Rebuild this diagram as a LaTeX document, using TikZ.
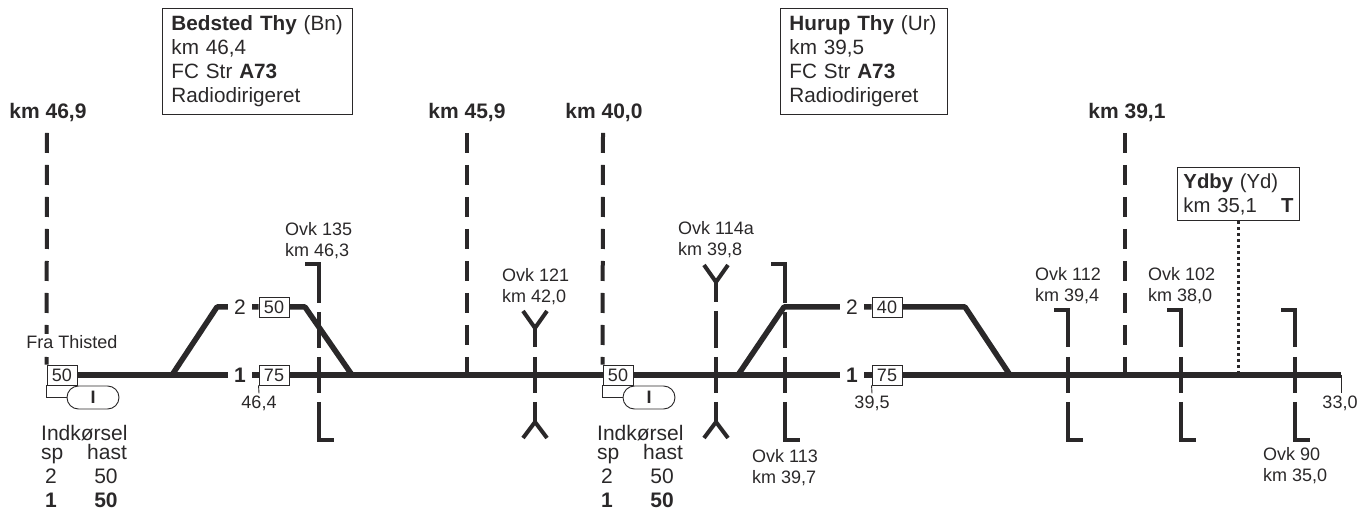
\documentclass[tikz,border=0pt]{standalone}
\usepackage{fontspec}
\setmainfont{Liberation Sans}
\usepackage{tikz}
\usetikzlibrary{calc,positioning,shapes.misc}
\definecolor{ink}{HTML}{2A2829}
\tikzset{
  track/.style={draw=ink,line width=5.5pt},
  kmline/.style={draw=ink,line width=4pt,dash pattern=on 20pt off 12pt},
  ovktall/.style={draw=ink,line width=4pt,dash pattern=on 39pt off 9pt on 36pt off 9pt on 36pt off 9pt on 38pt off 9pt},
  ovklow/.style={draw=ink,line width=4pt,dash pattern=on 37pt off 10pt on 36pt off 9pt on 37pt off 9pt},
  ovkforka/.style={draw=ink,line width=4pt,dash pattern=on 19pt off 10pt on 36pt off 9pt on 20pt off 9pt},
  ovkforkb/.style={draw=ink,line width=4pt,dash pattern=on 20pt off 9pt on 37pt off 9pt on 36pt off 9pt on 20pt off 9pt},
  ovkend/.style={draw=ink,line width=4pt},
  thin/.style={draw=ink,line width=0.9pt},
  speedbox/.style={draw=ink,fill=white,line width=0.9pt,minimum width=30pt,minimum height=20pt,inner sep=0pt,text=ink,font=\fontsize{18}{21}\selectfont},
  tracknum/.style={minimum width=24pt,inner sep=0pt,text=ink,font=\fontsize{21}{24}\selectfont},
  stationbox/.style={draw=ink,line width=0.9pt,anchor=north west,align=left,inner xsep=9pt,inner ysep=0pt,text=ink,font=\fontsize{20.7}{24}\selectfont},
  kmlabel/.style={text=ink,inner sep=0pt,font=\bfseries\fontsize{21}{24}\selectfont},
  ovk/.style={text=ink,inner sep=0pt,anchor=west,align=left,font=\fontsize{18}{21}\selectfont},
  small/.style={text=ink,inner xsep=0pt,inner ysep=2pt,font=\fontsize{18}{21}\selectfont},
  tabletext/.style={text=ink,inner sep=0pt,anchor=base,font=\fontsize{21}{24}\selectfont},
  pill/.style={draw=ink,rounded rectangle,line width=0.9pt,minimum width=52pt,minimum height=23pt,inner sep=0pt,text=ink,font=\bfseries\fontsize{18}{21}\selectfont}
}
\begin{document}
\begin{tikzpicture}[x=1pt,y=-1pt]
    \useasboundingbox (0,0) rectangle (1360,510);
    % stations
    \node[stationbox,text width=172pt,minimum height=106pt] (bedsted) at (162,8)
      {\textbf{Bedsted Thy} (Bn)\\km 46,4\\FC Str \textbf{A73}\\Radiodirigeret};
    \node[stationbox,text width=149pt,minimum height=106pt] (hurup) at (780,8)
      {\textbf{Hurup Thy} (Ur)\\km 39,5\\FC Str \textbf{A73}\\Radiodirigeret};
    \node[stationbox,inner xsep=6pt,text width=110pt,minimum height=53pt,font=\fontsize{20.3}{24}\selectfont] (ydby) at (1177,167)
      {\textbf{Ydby} (Yd)\\km 35,1\hfill\textbf{T}};
    % km labels
    \node[kmlabel] (kmA) at (48,113) {km 46,9};
    \node[kmlabel] (kmB) at (467,113) {km 45,9};
    \node[kmlabel] (kmC) at (604,113) {km 40,0};
    \node[kmlabel] (kmD) at (1127,113) {km 39,1};
    % tracks, speed boxes
    \node[speedbox] (sigA) at (62,375) {50};
    \node[speedbox] (sigB) at (618,375) {50};
    \node[tracknum] (numA2) at (240,307) {2};
    \node[tracknum,font=\bfseries\fontsize{21}{24}\selectfont] (numA1) at (240,375) {1};
    \node[tracknum] (numB2) at (852,307) {2};
    \node[tracknum,font=\bfseries\fontsize{21}{24}\selectfont] (numB1) at (852,375) {1};
    \node[speedbox] (boxA2) at (274,307) {50};
    \node[speedbox] (boxA1) at (274,375) {75};
    \node[speedbox] (boxB2) at (887,307) {40};
    \node[speedbox] (boxB1) at (887,375) {75};
    \coordinate (endline) at (1341,375);
    \coordinate (jA1) at (172,375);
    \coordinate (jA2) at (217,307);
    \coordinate (jA3) at (305,307);
    \coordinate (jA4) at (352,375);
    \coordinate (jB1) at (738,375);
    \coordinate (jB2) at (784,307);
    \coordinate (jB3) at (965,307);
    \coordinate (jB4) at (1010,375);
    \path[track]
    (sigA.east) -- (numA1.west)
    (numA1.east) -- (boxA1.west)
    (boxA1.east) -- (sigB.west)
    (sigB.east) -- (numB1.west)
    (numB1.east) -- (boxB1.west)
    (boxB1.east) -- (endline);
    \path[track,line join=round]
    (jA1) -- (jA2) -- (numA2.west)
    (numA2.east) -- (boxA2.west)
    (boxA2.east) -- (jA3) -- (jA4)
    (jB1) -- (jB2) -- (numB2.west)
    (numB2.east) -- (boxB2.west)
    (boxB2.east) -- (jB3) -- (jB4);
    % km lines
    \coordinate (kmAtop) at (47,133);
    \coordinate (kmBtop) at (467,133);
    \coordinate (kmBbot) at (467,375);
    \coordinate (kmCtop) at (603,133);
    \coordinate (kmDtop) at (1125,133);
    \coordinate (kmDbot) at (1125,375);
    \path[kmline] (kmAtop) -- (sigA.north west);
    \path[kmline] (kmBtop) -- (kmBbot);
    \path[kmline] (kmCtop) -- (sigB.north west);
    \path[kmline] (kmDtop) -- (kmDbot);
    \node[small,fill=white,inner ysep=1pt] (frathisted) at (72,342) {Fra Thisted};
    \coordinate (ydbyfoot) at (ydby.south -| 1238,0);
    \coordinate (ydbytrack) at (1238,372);
    \draw[ink,line width=3pt,dash pattern=on 3pt off 3pt] (ydbyfoot) -- (ydbytrack);
    % level crossings, hooks
    \foreach \x/\top/\kind in {319/264/ovktall,785/264/ovktall,1068/310/ovklow,1181/310/ovklow,1295/310/ovklow} {
      \coordinate (hookL\x) at (\x-14,\top);
      \coordinate (hookT\x) at (\x,\top);
      \coordinate (hookB\x) at (\x,440);
      \coordinate (hookR\x) at (\x+15,440);
      \path[ovkend,line join=miter] (hookL\x) -- (hookT\x) -- ($(hookT\x)+(0,4)$);
      \path[ovkend,line join=miter] ($(hookB\x)+(0,-4)$) -- (hookB\x) -- (hookR\x);
      \path[\kind] (hookT\x) -- (hookB\x);
    }
    % level crossings, forks
    \foreach \x/\top/\kind in {535/328/ovkforka,716/282/ovkforkb} {
      \coordinate (forkT\x) at (\x,\top);
      \coordinate (forkB\x) at (\x,422);
      \path[ovkend,line join=miter] (\x-12,\top-17) -- (forkT\x) -- (\x+12,\top-17);
      \path[ovkend,line join=miter] (\x-12,438) -- (forkB\x) -- (\x+12,438);
      \path[\kind] (forkT\x) -- (forkB\x);
    }
    % crossing labels
    \node[ovk] (ovk135) at (285,241) {Ovk 135\\km 46,3};
    \node[ovk] (ovk121) at (502,287) {Ovk 121\\km 42,0};
    \node[ovk] (ovk114) at (678,240) {Ovk 114a\\km 39,8};
    \node[ovk] (ovk113) at (752,468) {Ovk 113\\km 39,7};
    \node[ovk] (ovk112) at (1035,286) {Ovk 112\\km 39,4};
    \node[ovk] (ovk102) at (1148,286) {Ovk 102\\km 38,0};
    \node[ovk] (ovk90) at (1263,466) {Ovk 90\\km 35,0};
    % km ticks
    \node[small] (kmtickA) at (259,403) {46,4};
    \node[small] (kmtickB) at (872,403) {39,5};
    \node[small] (kmtickC) at (1340,403) {33,0};
    \draw[thin] (boxA1.south west) -- (kmtickA.north);
    \draw[thin] (boxB1.south west) -- (kmtickB.north);
    \draw[thin] (endline) -- (kmtickC.north -| endline);
    % entry signals and tables
    \foreach \s/\dx in {A/0,B/556} {
      \node[pill] (pill\s) at (93+\dx,397.5) {I};
      \draw[thin] (sig\s.south west) |- (pill\s.west);
      \node[tabletext,anchor=base west] (ind\s) at (41+\dx,440) {Indkørsel};
      \node[tabletext,anchor=base west] (sp\s) at (41+\dx,459) {sp};
      \node[tabletext,anchor=base west] (hast\s) at (87+\dx,459) {hast};
      \node[tabletext] (two\s) at (51+\dx,483) {2};
      \node[tabletext] (twov\s) at (106+\dx,483) {50};
      \node[tabletext,font=\bfseries\fontsize{21}{24}\selectfont] (one\s) at (51+\dx,507) {1};
      \node[tabletext,font=\bfseries\fontsize{21}{24}\selectfont] (onev\s) at (106+\dx,507) {50};
    }
\end{tikzpicture}
\end{document}
